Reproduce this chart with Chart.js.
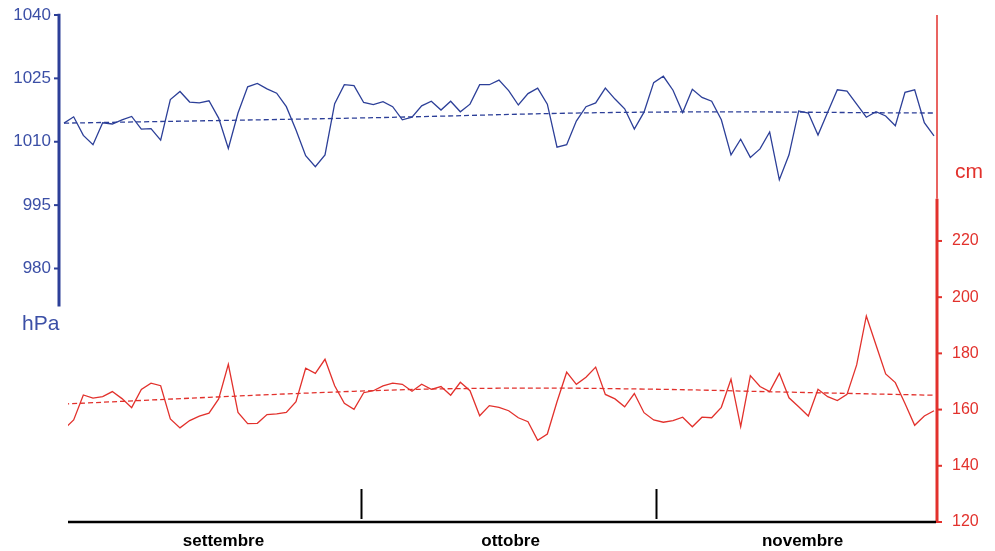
<!DOCTYPE html>
<html>
<head>
<meta charset="utf-8">
<script src="https://cdn.jsdelivr.net/npm/chart.js@4.4.1/dist/chart.umd.min.js"></script>
<style>
  html, body { margin: 0; padding: 0; background: #fff; }
  canvas { display: block; }
</style>
</head>
<body>
<canvas id="chart" width="995" height="551"></canvas>
<script>
// daily values, 1 Sep .. 30 Nov
const pressure = [
  1014.4, 1015.9, 1011.5, 1009.3, 1014.5, 1014.2, 1015.2, 1016.0, 1013.0, 1013.1,
  1010.4, 1020.0, 1021.9, 1019.4, 1019.2, 1019.7, 1015.6, 1008.4, 1016.8, 1023.0,
  1023.8, 1022.5, 1021.5, 1018.3, 1012.8, 1006.7, 1004.1, 1006.9, 1019.0, 1023.5,
  1023.3, 1019.3, 1018.8, 1019.5, 1018.3, 1015.2, 1015.8, 1018.5, 1019.6, 1017.5,
  1019.6, 1017.1, 1018.9, 1023.5, 1023.5, 1024.6, 1022.1, 1018.7, 1021.4, 1022.7,
  1018.9, 1008.7, 1009.3, 1014.9, 1018.3, 1019.2, 1022.7, 1020.1, 1017.8, 1013.0,
  1017.0, 1024.0, 1025.5, 1022.2, 1016.9, 1022.4, 1020.5, 1019.6, 1015.2, 1006.9,
  1010.6, 1006.3, 1008.3, 1012.3, 1001.0, 1006.9, 1017.3, 1016.8, 1011.6, 1017.0,
  1022.3, 1022.0, 1018.9, 1015.8, 1017.1, 1016.1, 1013.8, 1021.7, 1022.3, 1014.5,
  1011.4
];
const level = [
  153.0, 156.3, 165.2, 164.1, 164.6, 166.4, 163.9, 160.7, 167.2, 169.4,
  168.5, 156.7, 153.5, 156.1, 157.7, 158.7, 163.8, 176.1, 159.0, 155.0,
  155.1, 158.2, 158.5, 159.0, 162.8, 174.7, 172.9, 177.9, 168.5, 162.2,
  160.1, 166.0, 166.7, 168.4, 169.4, 169.0, 166.5, 169.0, 167.2, 168.2,
  165.1, 169.7, 166.7, 157.8, 161.4, 160.8, 159.6, 157.1, 155.7, 149.1,
  151.3, 162.8, 173.3, 169.0, 171.5, 175.1, 165.4, 163.8, 161.0, 165.7,
  158.9, 156.3, 155.5, 156.1, 157.3, 153.9, 157.3, 157.1, 160.8, 170.8,
  153.9, 172.1, 168.2, 166.4, 172.9, 164.2, 161.0, 157.7, 167.2, 164.6,
  163.2, 165.4, 175.9, 193.3, 183.0, 172.7, 169.6, 162.2, 154.4, 157.7,
  159.6
];

// trend curves
const pressureTrendDays = [0, 30, 60, 90];
const pressureTrend = [1014.4, 1015.6, 1017.0, 1016.8];
const levelTrendDays = [0, 30, 45, 60, 75, 90];
const levelTrend = [162.0, 166.5, 167.6, 167.3, 166.2, 165.1];

const months = ['settembre', 'ottobre', 'novembre'];
const monthCenters = [16.5, 46.2, 76.4];
const monthEdges = [30.7, 61.2];

const pressureTicks = [980, 995, 1010, 1025, 1040];
const levelTicks = [120, 140, 160, 180, 200, 220];

const BLUE = '#2c3f98';
const BLUE_TXT = '#3b4fa6';
const RED = '#e2312c';

const toPoints = (xs, ys) => ys.map((v, i) => ({ x: xs ? xs[i] : i, y: v }));

const axesPlugin = {
  id: 'axes',
  afterDraw(chart) {
    const ctx = chart.ctx;
    const { x, yP, yC } = chart.scales;
    const area = chart.chartArea;
    ctx.save();

    // left pressure axis
    const lx = 59;
    ctx.strokeStyle = BLUE;
    ctx.lineWidth = 3;
    ctx.beginPath();
    ctx.moveTo(lx, yP.getPixelForValue(1040.3));
    ctx.lineTo(lx, yP.getPixelForValue(971));
    ctx.stroke();
    ctx.lineWidth = 2;
    ctx.fillStyle = BLUE_TXT;
    ctx.font = '17px "Liberation Sans", Arial, sans-serif';
    ctx.textAlign = 'right';
    ctx.textBaseline = 'middle';
    pressureTicks.forEach(v => {
      const y = yP.getPixelForValue(v);
      ctx.beginPath();
      ctx.moveTo(lx - 5, y);
      ctx.lineTo(lx, y);
      ctx.stroke();
      ctx.fillText(String(v), lx - 8, y);
    });
    ctx.font = '21px "Liberation Sans", Arial, sans-serif';
    ctx.textAlign = 'left';
    ctx.fillText('hPa', 22, 324);

    // right level axis
    const rx = area.right;
    ctx.strokeStyle = RED;
    ctx.lineWidth = 1.5;
    ctx.beginPath();
    ctx.moveTo(rx, area.top);
    ctx.lineTo(rx, yC.getPixelForValue(235));
    ctx.stroke();
    ctx.lineWidth = 3;
    ctx.beginPath();
    ctx.moveTo(rx, yC.getPixelForValue(235));
    ctx.lineTo(rx, yC.getPixelForValue(120) + 1);
    ctx.stroke();
    ctx.lineWidth = 2;
    ctx.fillStyle = RED;
    ctx.font = '16px "Liberation Sans", Arial, sans-serif';
    ctx.textAlign = 'left';
    levelTicks.forEach(v => {
      const y = yC.getPixelForValue(v);
      ctx.beginPath();
      ctx.moveTo(rx, y);
      ctx.lineTo(rx + 5, y);
      ctx.stroke();
      ctx.fillText(String(v), rx + 15, y);
    });
    ctx.font = '21px "Liberation Sans", Arial, sans-serif';
    ctx.fillText('cm', 955, 172);

    // time axis
    ctx.strokeStyle = '#000';
    ctx.lineWidth = 2.5;
    ctx.beginPath();
    ctx.moveTo(area.left, area.bottom);
    ctx.lineTo(rx - 1, area.bottom);
    ctx.stroke();
    ctx.lineWidth = 2;
    monthEdges.forEach(d => {
      const px = Math.round(x.getPixelForValue(d)) + 0.5;
      ctx.beginPath();
      ctx.moveTo(px, area.bottom - 33);
      ctx.lineTo(px, area.bottom - 3);
      ctx.stroke();
    });
    ctx.fillStyle = '#000';
    ctx.font = 'bold 17px "Liberation Sans", Arial, sans-serif';
    ctx.textAlign = 'center';
    months.forEach((m, i) => {
      ctx.fillText(m, x.getPixelForValue(monthCenters[i]), 541);
    });
    ctx.restore();
  }
};

new Chart(document.getElementById('chart'), {
  type: 'line',
  data: {
    datasets: [
      {
        data: toPoints(null, pressure),
        yAxisID: 'yP',
        borderColor: BLUE,
        borderWidth: 1.3,
        pointRadius: 0,
        clip: false
      },
      {
        data: toPoints(pressureTrendDays, pressureTrend),
        yAxisID: 'yP',
        borderColor: BLUE,
        borderWidth: 1.3,
        borderDash: [5, 3],
        pointRadius: 0,
        tension: 0.4,
        clip: false
      },
      {
        data: toPoints(null, level),
        yAxisID: 'yC',
        borderColor: RED,
        borderWidth: 1.3,
        pointRadius: 0
      },
      {
        data: toPoints(levelTrendDays, levelTrend),
        yAxisID: 'yC',
        borderColor: RED,
        borderWidth: 1.3,
        borderDash: [5, 3],
        pointRadius: 0,
        tension: 0.4
      }
    ]
  },
  options: {
    responsive: false,
    animation: false,
    devicePixelRatio: 1,
    layout: { padding: { left: 68, right: 58, top: 15, bottom: 29 } },
    plugins: { legend: { display: false }, tooltip: { enabled: false } },
    scales: {
      x: { type: 'linear', min: 0.414, max: 90.31, display: false },
      yP: { type: 'linear', position: 'left', min: 920, max: 1040, display: false },
      yC: { type: 'linear', position: 'right', min: 120, max: 300.4, display: false }
    }
  },
  plugins: [axesPlugin]
});
</script>
</body>
</html>
